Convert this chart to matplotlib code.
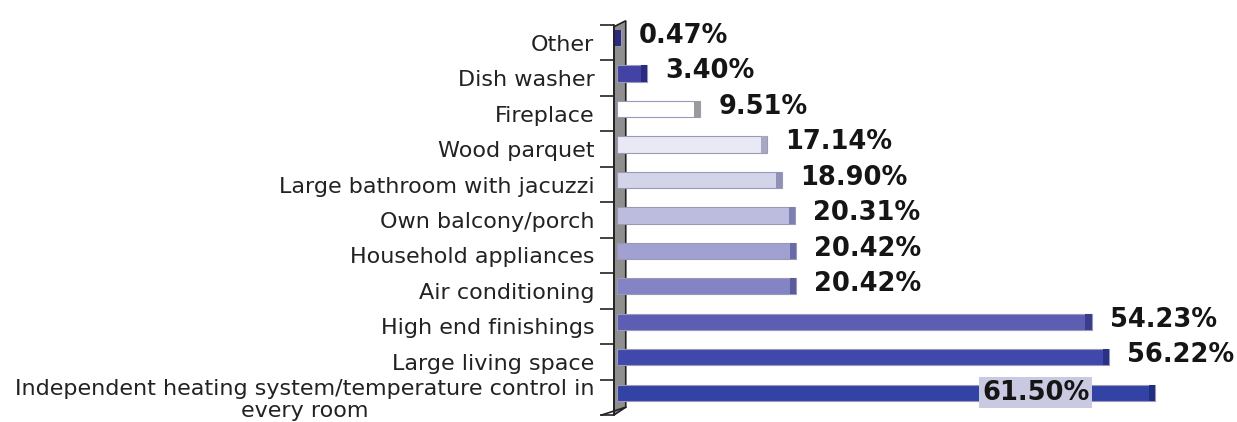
import matplotlib
matplotlib.use("Agg")
import matplotlib.pyplot as plt
from matplotlib.patches import Polygon

categories = ["Other", "Dish washer", "Fireplace", "Wood parquet",
              "Large bathroom with jacuzzi", "Own balcony/porch",
              "Household appliances", "Air conditioning", "High end finishings",
              "Large living space",
              "Independent heating system/temperature control in\nevery room"]
values = [0.47, 3.40, 9.51, 17.14, 18.90, 20.31, 20.42, 20.42, 54.23, 56.22, 61.50]
labels = ["0.47%", "3.40%", "9.51%", "17.14%", "18.90%", "20.31%", "20.42%",
          "20.42%", "54.23%", "56.22%", "61.50%"]
colors = ["#4343a6", "#4343a6", "#ffffff", "#e9e9f5", "#d3d3ea", "#bcbcdf",
          "#a0a0d1", "#8484c4", "#5d5db3", "#4049ab", "#3343a3"]
caps = ["#2a2a80", "#2a2a80", "#9a9a9a", "#a8a8c0", "#9090b8", "#7e7eb0",
        "#6a6aa8", "#5a5a9c", "#3c3c8c", "#2a3288", "#222e80"]

W, H = 1237, 422
fig = plt.figure(figsize=(W / 100, H / 100), dpi=100)

px_per_unit = 8.75
x0_px = 617
xmin = -0.35
xmax = 70
left_px = x0_px + xmin * px_per_unit
ax = fig.add_axes([left_px / W, 1 - 415 / H,
                   (xmax - xmin) * px_per_unit / W, (415 - 25) / H])
ax.set_xlim(xmin, xmax)
ax.set_ylim(len(categories) - 0.5, -0.5)

# back wall with a little perspective
wall = Polygon([(xmin, -0.45), (1.0, -0.62), (1.0, len(categories) - 0.72),
                (xmin, len(categories) - 0.5)],
               closed=True, facecolor="#8f8f8f", edgecolor="#222222",
               linewidth=1.2, clip_on=False, zorder=1)
ax.add_patch(wall)
ax.plot([xmin - 1.4, 1.0], [len(categories) - 0.5, len(categories) - 0.72],
        color="#222222", lw=1.2, clip_on=False, zorder=1)

shift = -0.13
bh = 0.46
ypos = [i + shift for i in range(len(categories))]
ax.barh(ypos, values, height=bh, left=0, color=colors,
        edgecolor="#9a9ab8", linewidth=0.8, zorder=3)
ax.barh(ypos, [0.7] * len(values), height=bh, left=[v - 0.7 for v in values],
        color=caps, linewidth=0, zorder=4)

for i, (v, lab) in enumerate(zip(values, labels)):
    if i == len(values) - 1:
        ax.annotate(lab, (v, ypos[i]), xytext=(-86, 0), textcoords="offset points",
                    ha="center", va="center", fontsize=18.5, fontweight="bold",
                    color="#151515", zorder=5,
                    bbox=dict(boxstyle="square,pad=0.1", facecolor="#c9c9e2",
                              edgecolor="none"))
    else:
        ax.annotate(lab, (v, ypos[i]), xytext=(13, 1.5), textcoords="offset points",
                    ha="left", va="center", fontsize=18.5, fontweight="bold",
                    color="#151515", zorder=5)

ax.set_yticks([i - 0.5 for i in range(len(categories) + 1)])
ax.set_yticklabels([])
ax.set_yticks(range(len(categories)), minor=True)
ax.set_yticklabels(categories, minor=True, fontsize=16, color="#222222",
                   multialignment="center", linespacing=1.1)
ax.tick_params(axis="y", which="major", length=10, width=1.2, color="#222222",
               direction="out")
ax.tick_params(axis="y", which="minor", length=0, pad=14)

ax.set_xticks([])
for s in ["top", "right", "bottom"]:
    ax.spines[s].set_visible(False)
ax.spines["left"].set_color("#222222")
ax.spines["left"].set_linewidth(1.2)
ax.spines["left"].set_zorder(2)
ax.patch.set_alpha(0)

fig.savefig("out.png", dpi=100)
